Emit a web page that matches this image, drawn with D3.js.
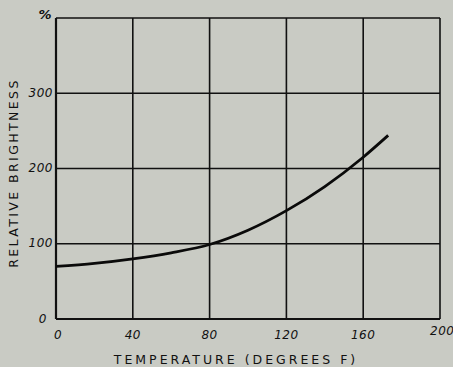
<!DOCTYPE html>
<html>
<head>
<meta charset="utf-8">
<script src="https://cdn.jsdelivr.net/npm/d3@7"></script>
<style>
	body { margin: 0; background: #c9cbc4; }
	svg { display: block; }
	.grid line { stroke: #111; stroke-width: 1.6; }
	.tick-label { font-family: 'DejaVu Sans', sans-serif; font-style: italic; font-size: 12px; letter-spacing: 0.5px; fill: #111; }
	.axis-title { font-family: 'DejaVu Sans', sans-serif; font-size: 12.5px; letter-spacing: 2.4px; fill: #111; }
</style>
</head>
<body>
<script>
// temperature (deg F) vs relative brightness (%)
var temps = [ 0, 20, 40, 60, 80, 100, 120, 140, 160, 173 ];
var brightness = [ 70, 74, 80, 88, 99, 118, 144, 176, 215, 244 ];

var xTicks = [ 0, 40, 80, 120, 160, 200 ];
var yTicks = [ 0, 100, 200, 300 ];

var width = 453;
var height = 367;

var padding = { top: 18, right: 13, bottom: 48, left: 56 };

var sizes = {
	cwidth: width - padding.left - padding.right,
	cheight: height - padding.top - padding.bottom
};

var svg = d3.select( 'body' ).append( 'svg' )
	.attr( 'width', width )
	.attr( 'height', height );

var guts = svg.append( 'g' )
	.attr( 'transform', 'translate(' + padding.left + ',' + padding.top + ')' );

var scales = {};
scales.x = d3.scaleLinear().domain( [ 0, 200 ] ).range( [ 0, sizes.cwidth ] );
scales.y = d3.scaleLinear().domain( [ 0, 400 ] ).range( [ sizes.cheight, 0 ] );

// grid, drawn as plain lines so the frame is closed
var grid = guts.append( 'g' ).classed( 'grid', true );

grid.selectAll( '.vline' )
	.data( xTicks )
	.enter()
	.append( 'line' )
	.attr( 'x1', function ( d ) { return scales.x( d ); } )
	.attr( 'x2', function ( d ) { return scales.x( d ); } )
	.attr( 'y1', 0 )
	.attr( 'y2', sizes.cheight )
	.style( 'stroke-width', function ( d, i ) { return i === 0 ? 2.2 : 1.6; } );

grid.selectAll( '.hline' )
	.data( yTicks.concat( [ 400 ] ) )
	.enter()
	.append( 'line' )
	.attr( 'x1', 0 )
	.attr( 'x2', sizes.cwidth )
	.attr( 'y1', function ( d ) { return scales.y( d ); } )
	.attr( 'y2', function ( d ) { return scales.y( d ); } )
	.style( 'stroke-width', function ( d ) { return d === 0 ? 2.2 : 1.6; } );

// tick labels
guts.selectAll( '.xlab' )
	.data( xTicks )
	.enter()
	.append( 'text' )
	.classed( 'tick-label', true )
	.attr( 'x', function ( d ) { return scales.x( d ); } )
	.attr( 'y', sizes.cheight + 20 )
	.attr( 'text-anchor', function ( d ) { return d === 200 ? 'start' : 'middle'; } )
	.attr( 'dx', function ( d ) { return d === 200 ? -10 : ( d === 0 ? 2 : 0 ); } )
	.attr( 'dy', function ( d ) { return d === 200 ? -4 : 0; } )
	.text( function ( d ) { return d; } );

guts.selectAll( '.ylab' )
	.data( yTicks )
	.enter()
	.append( 'text' )
	.classed( 'tick-label', true )
	.attr( 'x', -3 )
	.attr( 'y', function ( d ) { return scales.y( d ); } )
	.attr( 'dy', '0.3em' )
	.attr( 'dx', function ( d ) { return d === 0 ? -6 : 0; } )
	.attr( 'text-anchor', 'end' )
	.text( function ( d ) { return d; } );

guts.append( 'text' )
	.classed( 'tick-label', true )
	.attr( 'x', -4 )
	.attr( 'y', 0 )
	.attr( 'text-anchor', 'end' )
	.attr( 'dy', '0.1em' )
	.style( 'font-weight', 'bold' )
	.style( 'font-size', '13px' )
	.text( '%' );

// the curve
var line = d3.line()
	.x( function ( d ) { return scales.x( d[0] ); } )
	.y( function ( d ) { return scales.y( d[1] ); } )
	.curve( d3.curveMonotoneX );

guts.append( 'path' )
	.datum( d3.zip( temps, brightness ) )
	.attr( 'd', line )
	.style( 'fill', 'none' )
	.style( 'stroke', '#0a0a0a' )
	.style( 'stroke-width', 2.8 );

// axis titles
svg.append( 'text' )
	.classed( 'axis-title', true )
	.attr( 'x', 236 )
	.attr( 'y', 364 )
	.attr( 'text-anchor', 'middle' )
	.style( 'letter-spacing', '3px' )
	.text( 'TEMPERATURE  (DEGREES F)' );

svg.append( 'text' )
	.classed( 'axis-title', true )
	.attr( 'transform', 'translate(18,173) rotate(-90)' )
	.attr( 'text-anchor', 'middle' )
	.text( 'RELATIVE   BRIGHTNESS' );
</script>
</body>
</html>
